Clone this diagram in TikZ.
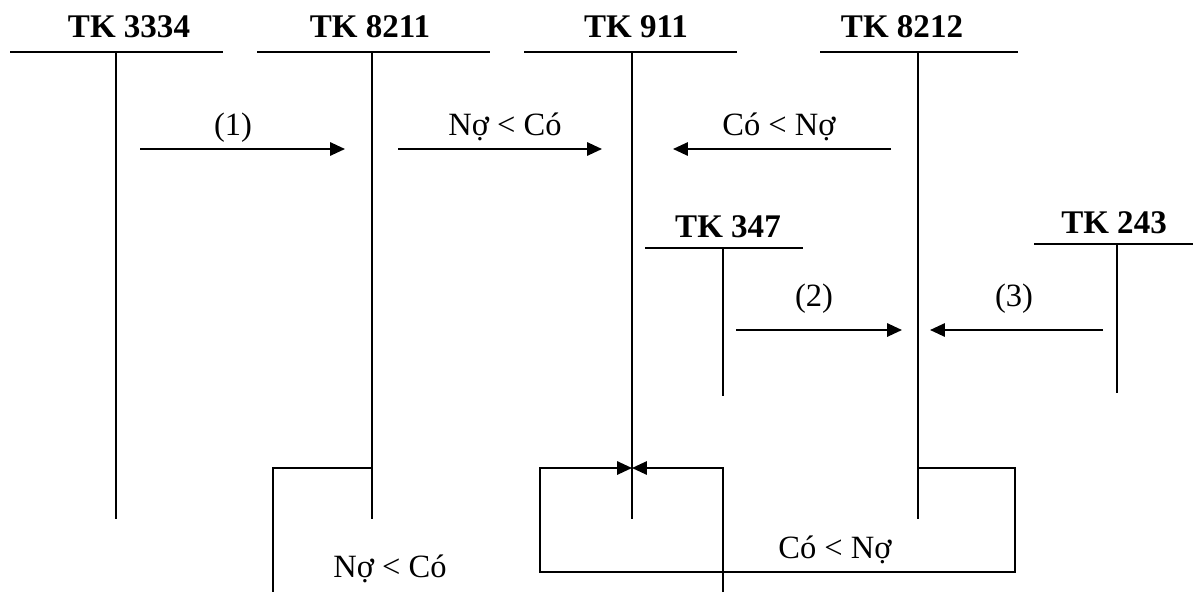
\documentclass[tikz,border=0pt]{standalone}
\usepackage{fontspec}
\setmainfont{Liberation Serif}
\usetikzlibrary{arrows.meta}

\begin{document}
\begin{tikzpicture}[
    x=0.02cm,y=-0.02cm,line width=1.1pt,
    head/.style={anchor=base,inner sep=0pt,font=\bfseries\fontsize{18.8}{20}\selectfont},
    lbl/.style={anchor=base,inner sep=0pt,font=\fontsize{18.5}{20}\selectfont},
    >={Triangle[length=8.5pt,width=7.6pt]}
]
\useasboundingbox (0,0) rectangle (1196,592);
% T accounts: number / text x / text base / top line y / left / right / stem x / stem end
\foreach \n/\tx/\ty/\ly/\l/\r/\vx/\vy in {3334/129/37/52/10/223/116/519,
    8211/370/37/52/257/490/372/519, 911/636/37/52/524/737/632/519,
    8212/902/37/52/820/1018/918/519, 347/728/237/248/645/803/723/396,
    243/1114/233/244/1034/1193/1117/393} {
    \node[head] (h\n) at (\tx,\ty) {TK \n};
    \coordinate (l\n) at (\l,\ly);
    \coordinate (r\n) at (\r,\ly);
    \coordinate (t\n) at (\vx,\ly);
    \coordinate (b\n) at (\vx,\vy);
    \draw (l\n) -- (r\n);
    \draw (t\n) -- (b\n);
}
% entries
\foreach \k/\sx/\ex/\y/\lx/\ly/\txt in {1/140/345/149/233/135/{(1)},
    2/398/602/149/505/135/{Nợ < Có}, 3/891/673/149/779/135/{Có < Nợ},
    4/736/902/330/814/306/{(2)}, 5/1103/930/330/1014/306/{(3)}} {
    \coordinate (s\k) at (\sx,\y);
    \coordinate (e\k) at (\ex,\y);
    \draw[->] (s\k) -- (e\k);
    \node[lbl] (n\k) at (\lx,\ly) {\txt};
}
% closing entries
\coordinate (k8211) at (372,468);
\coordinate (kl) at (273,468);
\coordinate (klb) at (273,592);
\draw (k8211) -- (kl) -- (klb);
\node[lbl] (n6) at (390,577) {Nợ < Có};
\coordinate (j911) at (632,468);
\coordinate (jl) at (540,468);
\coordinate (jlb) at (540,572);
\coordinate (jrb) at (1015,572);
\coordinate (jr) at (1015,468);
\coordinate (k8212) at (918,468);
\coordinate (jm) at (723,468);
\coordinate (jmb) at (723,592);
\draw[->] (k8212) -- (jr) -- (jrb) -- (jlb) -- (jl) -- (j911);
\draw[->] (jmb) -- (jm) -- (j911);
\node[lbl] (n7) at (835,558) {Có < Nợ};
\end{tikzpicture}
\end{document}
